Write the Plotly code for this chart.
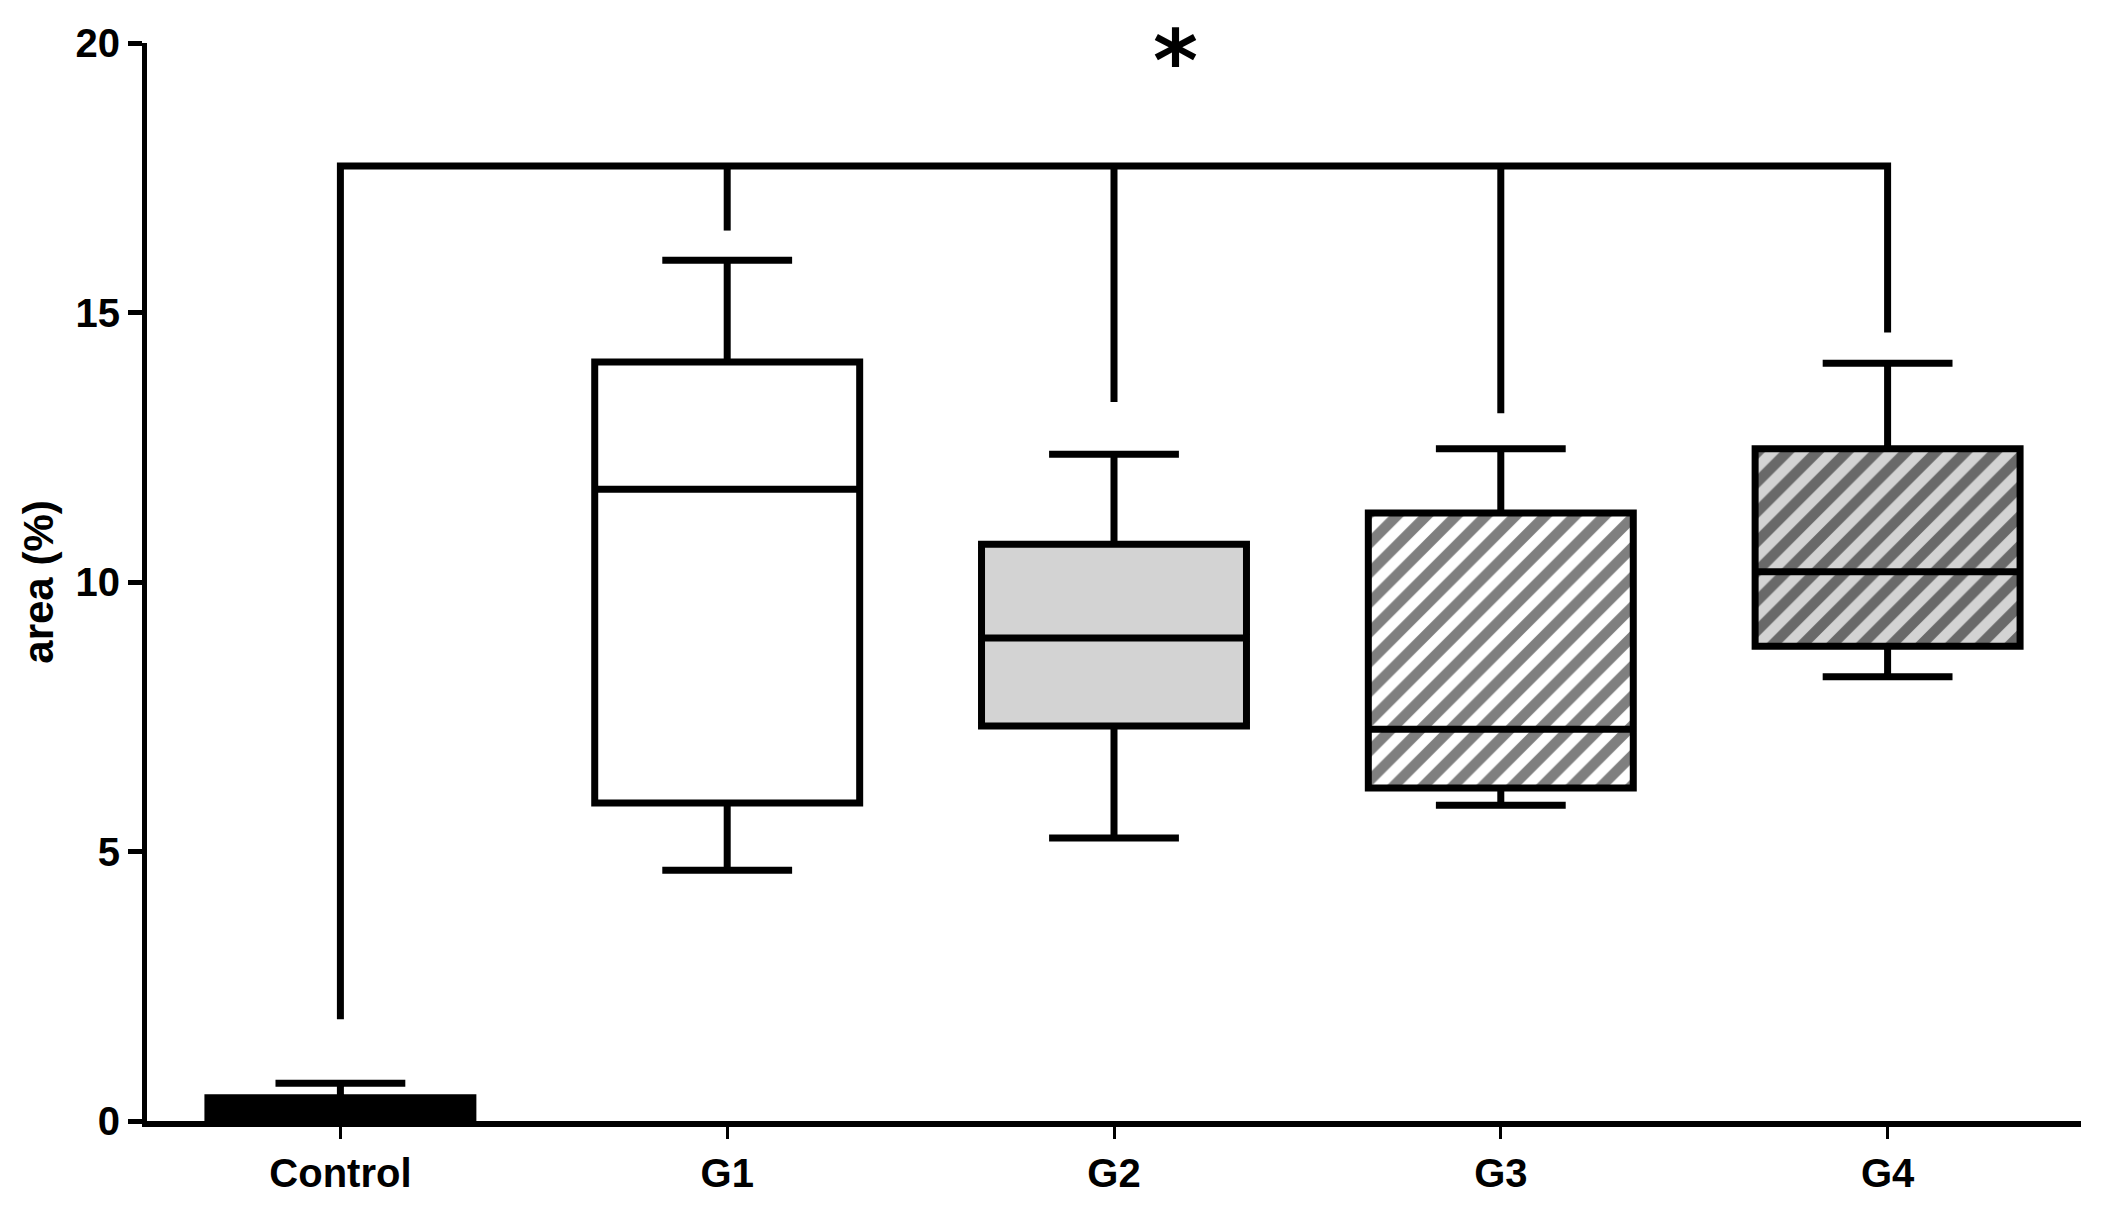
import plotly.graph_objects as go

# ---- data ----
categories = ["Control", "G1", "G2", "G3", "G4"]
lowerfence = [0.0, 4.65, 5.25, 5.86, 8.24]
q1 = [0.0, 5.90, 7.33, 6.18, 8.81]
median = [0.20, 11.72, 8.96, 7.27, 10.19]
q3 = [0.43, 14.08, 10.70, 11.28, 12.47]
upperfence = [0.70, 15.97, 12.37, 12.47, 14.06]

fill_colors = ["#000000", "#ffffff", "#d3d3d3", "#ffffff", "#d3d3d3"]
hatched = [False, False, False, True, True]

bracket_level = 17.72
bracket_ends = [1.89, 16.52, 13.34, 13.13, 14.63]
sig_label = "*"
sig_x = 2.16

yticks = [0, 5, 10, 15, 20]
y_title = "area (%)"

FONT = "Arial, 'Liberation Sans', sans-serif"
BOX_W = 0.685
LW = 7

fig = go.Figure()

# hatched fills underneath the box outlines
for i, cat in enumerate(categories):
    if hatched[i]:
        fig.add_trace(go.Bar(
            x=[i], y=[q3[i] - q1[i]], base=[q1[i]], width=BOX_W,
            marker=dict(color=fill_colors[i], line=dict(width=0),
                        pattern=dict(shape="/", fgcolor="black", bgcolor=fill_colors[i],
                                     size=21, solidity=0.5)),
            showlegend=False, hoverinfo="skip"))

# boxes
for i, cat in enumerate(categories):
    fig.add_trace(go.Box(
        x=[i], q1=[q1[i]], median=[median[i]], q3=[q3[i]],
        lowerfence=[lowerfence[i]], upperfence=[upperfence[i]],
        width=BOX_W, whiskerwidth=0.49,
        fillcolor="rgba(0,0,0,0)" if hatched[i] else fill_colors[i],
        line=dict(color="black", width=LW),
        boxpoints=False, showlegend=False, name=cat))

# significance bracket
bx, by = [], []
n = len(categories)
bx += [0, 0, n - 1, n - 1]
by += [bracket_ends[0], bracket_level, bracket_level, bracket_ends[n - 1]]
for i in range(1, n - 1):
    bx += [None, i, i]
    by += [None, bracket_ends[i], bracket_level]
fig.add_trace(go.Scatter(x=bx, y=by, mode="lines",
                         line=dict(color="black", width=LW),
                         showlegend=False, hoverinfo="skip"))

fig.add_annotation(x=sig_x, xref="x", y=1.0306, yref="paper", text=sig_label,
                   showarrow=False, xanchor="center", yanchor="top", borderpad=0,
                   font=dict(family="DejaVu Sans", size=86, color="black", weight="bold"))

fig.update_layout(
    width=2102, height=1208,
    margin=dict(l=139, r=29, t=35, b=95),
    plot_bgcolor="white", paper_bgcolor="white",
    font=dict(family=FONT, color="black"),
    boxmode="overlay", barmode="overlay",
    showlegend=False,
)
fig.update_xaxes(
    range=[-0.5, n - 0.5], tickmode="array", tickvals=list(range(n)), ticktext=categories,
    showgrid=False, zeroline=False, showline=True, linecolor="black", linewidth=6,
    ticks="outside", ticklen=12, tickwidth=2.5, tickcolor="black",
    tickfont=dict(family=FONT, size=40, color="black", weight="bold"),
)
fig.update_yaxes(
    range=[0, 20], tickmode="array", tickvals=yticks,
    showgrid=False, zeroline=False, showline=True, linecolor="black", linewidth=5,
    ticks="outside", ticklen=14, tickwidth=5, tickcolor="black",
    tickfont=dict(family=FONT, size=40, color="black", weight="bold"),
    title=dict(text="<b>" + y_title + "</b>", standoff=10,
               font=dict(family=FONT, size=42, color="black")),
)

fig.write_html("out.html")
